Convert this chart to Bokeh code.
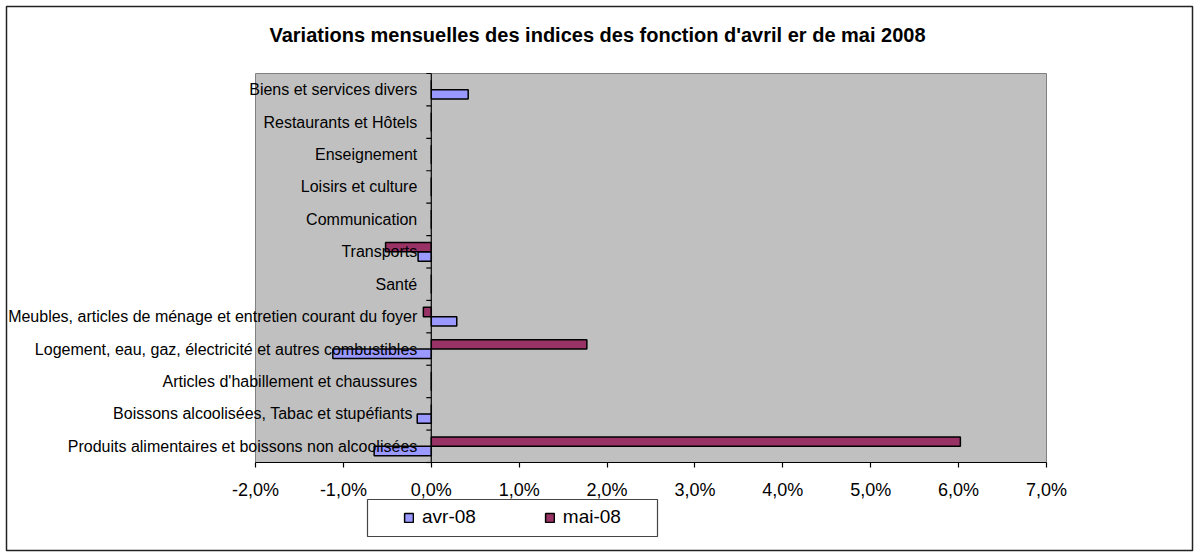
from bokeh.plotting import figure
from bokeh.models import (Range1d, LinearAxis, FixedTicker, Legend, LegendItem,
                          ColumnDataSource, BoxAnnotation)
from bokeh.core.properties import value
from bokeh.embed import file_html
from bokeh.resources import INLINE
from math import pi

categories = [
    "Produits alimentaires et boissons non alcoolisées",
    "Boissons alcoolisées,  Tabac et stupéfiants",
    "Articles d'habillement et chaussures",
    "Logement, eau, gaz, électricité et autres combustibles",
    "Meubles, articles de ménage et entretien courant du foyer",
    "Santé",
    "Transports",
    "Communication",
    "Loisirs et culture",
    "Enseignement",
    "Restaurants et Hôtels",
    "Biens et services divers",
]
avr_08 = [-0.0065, -0.0016, 0.0, -0.0112, 0.0029, 0.0, -0.0015, 0.0, 0.0, 0.0, 0.0, 0.0042]
mai_08 = [0.0602, 0.0, 0.0, 0.0177, -0.0009, 0.0, -0.0052, 0.0, 0.0, 0.0, 0.0, 0.0]
series_names = ["avr-08", "mai-08"]
tick_values = [-0.02, -0.01, 0.0, 0.01, 0.02, 0.03, 0.04, 0.05, 0.06, 0.07]
tick_labels = ["-2,0%", "-1,0%", "0,0%", "1,0%", "2,0%", "3,0%", "4,0%", "5,0%", "6,0%", "7,0%"]
title_text = "Variations mensuelles des indices des fonction d'avril er de mai 2008"

FONT = "Liberation Sans"
n = len(categories)
idx = list(range(n))
x_min, x_max = tick_values[0], tick_values[-1]

# ---- layout (pixels in the 1200x558 canvas) ----
W, H = 1200, 558
PA_L, PA_R, PA_T, PA_B = 255, 1046, 73, 462   # plot area box
sx = (x_max - x_min) / (PA_R - PA_L)
sy = n / (PA_B - PA_T)

def px2x(px):
    return x_min + (px - PA_L) * sx

def py2y(py):
    return (PA_B - py) * sy

p = figure(width=W, height=H, output_backend="svg", toolbar_location=None,
           x_range=Range1d(px2x(0), px2x(W)), y_range=Range1d(py2y(H), py2y(0)),
           x_axis_location=None, y_axis_location=None,
           min_border=0, min_border_left=0, min_border_right=0,
           min_border_top=0, min_border_bottom=0)
p.title.visible = False
p.background_fill_color = "white"
p.border_fill_color = "white"
p.outline_line_color = None
p.xgrid.visible = False
p.ygrid.visible = False

# plot area
p.quad(left=[x_min], right=[x_max], bottom=[0], top=[n],
       fill_color="#C0C0C0", line_color="#808080", line_width=1)
p.segment(x0=[x_min], y0=[0], x1=[x_max], y1=[0], line_color="black", line_width=1.2)

h = 0.29
centers = [i + 0.5 for i in idx]
src = ColumnDataSource(dict(
    y_avr=[c - h / 2 for c in centers],
    y_mai=[c + h / 2 for c in centers],
    avr=avr_08, mai=mai_08,
))
r_avr = p.hbar(y="y_avr", left=0, right="avr", height=h, source=src,
               fill_color="#9999FF", line_color="black", line_width=1.5)
r_mai = p.hbar(y="y_mai", left=0, right="mai", height=h, source=src,
               fill_color="#993366", line_color="black", line_width=1.5)

# category axis line at 0 with ticks between categories
p.segment(x0=[0], y0=[0], x1=[0], y1=[n], line_color="black", line_width=1.2)
p.ray(x=[0] * (n + 1), y=list(range(n + 1)), length=5, length_units="screen", angle=pi,
      line_color="black", line_width=1.2)

# x axis (fixed at the bottom of the plot area)
xaxis = LinearAxis(fixed_location=0, ticker=FixedTicker(ticks=tick_values),
                   major_label_overrides={v: l for v, l in zip(tick_values, tick_labels)})
xaxis.axis_line_color = None
xaxis.major_tick_line_color = "black"
xaxis.major_tick_line_width = 1.2
xaxis.major_tick_out = 5
xaxis.major_tick_in = 0
xaxis.minor_tick_line_color = None
xaxis.major_label_text_font = FONT
xaxis.major_label_text_font_size = "18px"
xaxis.major_label_text_color = "black"
xaxis.major_label_standoff = 12
p.add_layout(xaxis, "below")

# category labels, next to the 0 line
yaxis = LinearAxis(fixed_location=0, ticker=FixedTicker(ticks=centers),
                   major_label_overrides={c: name for c, name in zip(centers, categories)})
yaxis.axis_line_color = None
yaxis.major_tick_line_color = None
yaxis.minor_tick_line_color = None
yaxis.major_tick_out = 0
yaxis.major_tick_in = 0
yaxis.major_label_standoff = 14
yaxis.major_label_text_font = FONT
yaxis.major_label_text_font_size = "16px"
yaxis.major_label_text_color = "black"
p.add_layout(yaxis, "left")

# title
p.text(x=[px2x(597)], y=[py2y(34)], text=[title_text], text_align="center",
       text_baseline="middle", text_font=value(FONT), text_font_size="20px",
       text_font_style="bold", text_color="black")

# legend box and outer border
p.add_layout(BoxAnnotation(left=px2x(367), right=px2x(657), top=py2y(499), bottom=py2y(536),
                           fill_alpha=0, fill_color=None, line_color="#444444", line_alpha=1.0,
                           line_width=1.2, level="overlay"))
p.add_layout(BoxAnnotation(left=px2x(6), right=px2x(1192), top=py2y(6), bottom=py2y(550),
                           fill_alpha=0, fill_color=None, line_color="#222222", line_alpha=1.0,
                           line_width=1.5, level="overlay"))

items = [LegendItem(label=series_names[0], renderers=[r_avr]),
         LegendItem(label=series_names[1], renderers=[r_mai])]
legend = Legend(items=items, location=(403, 30), orientation="horizontal",
                padding=0, margin=0, spacing=68, label_standoff=8,
                glyph_width=11, glyph_height=11, label_height=11,
                label_text_font=FONT, label_text_font_size="19px", label_text_color="black",
                border_line_color=None, background_fill_alpha=0)
p.add_layout(legend, "center")

open("out.html", "w").write(file_html(p, INLINE))
